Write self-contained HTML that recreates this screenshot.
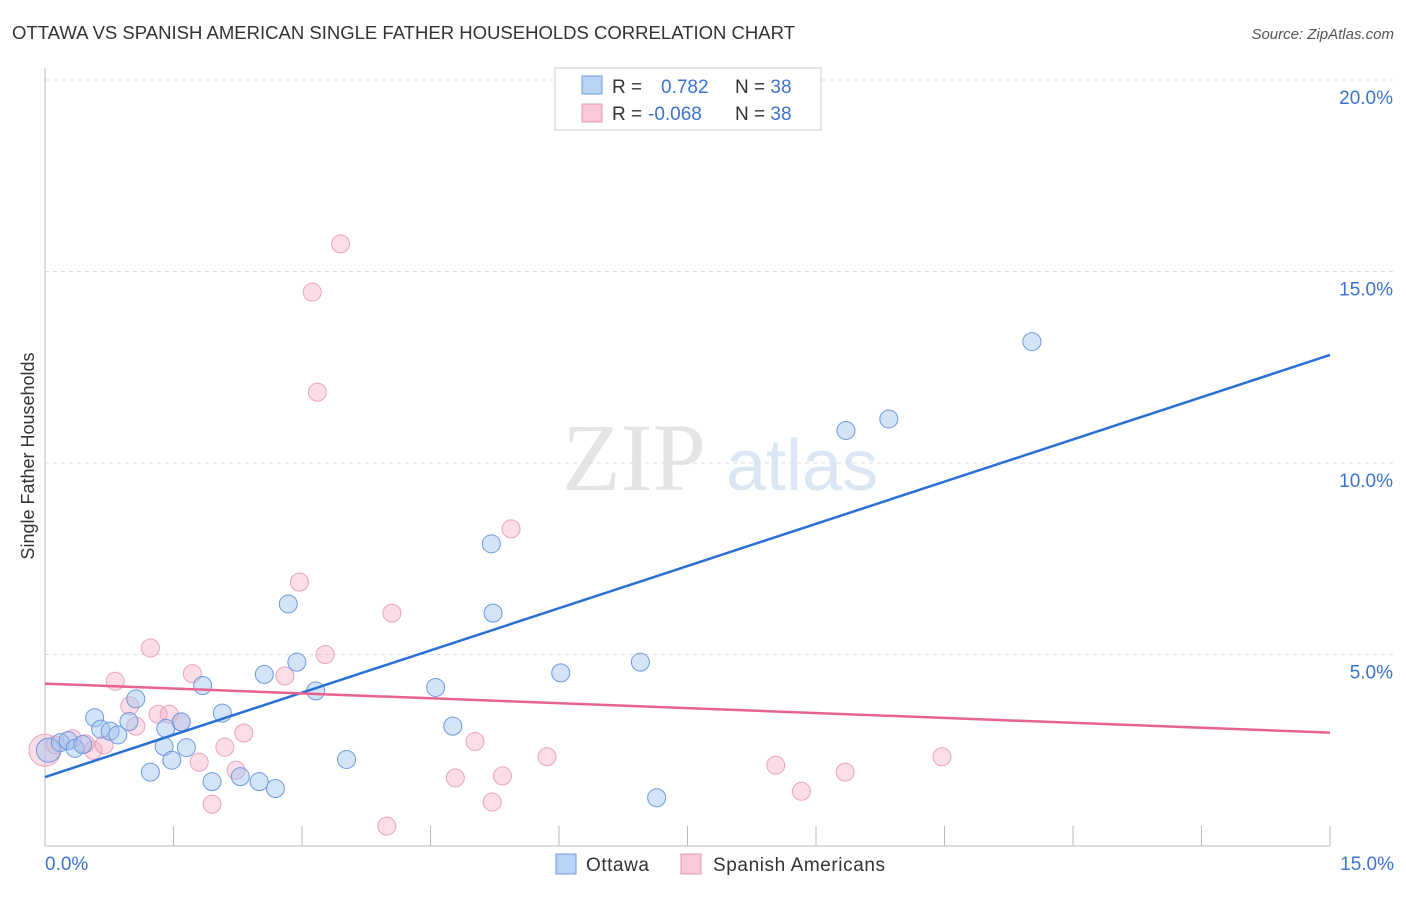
<!DOCTYPE html>
<html><head><meta charset="utf-8"><style>
body{margin:0;background:#fff;font-family:"Liberation Sans",sans-serif}
</style></head><body>
<svg id="c" width="1406" height="892" xmlns="http://www.w3.org/2000/svg" style="font-family:'Liberation Sans',sans-serif">
<text x="12" y="39" font-size="18" fill="#333" textLength="783" lengthAdjust="spacingAndGlyphs">OTTAWA VS SPANISH AMERICAN SINGLE FATHER HOUSEHOLDS CORRELATION CHART</text>
<text x="1394" y="39" font-size="15" fill="#555" font-style="italic" text-anchor="end">Source: ZipAtlas.com</text>
<text x="634" y="490" font-size="96" fill="#e4e4e4" font-family="Liberation Serif,serif" text-anchor="middle">ZIP</text>
<text x="802" y="490" font-size="72" fill="#dbe6f5" text-anchor="middle">atlas</text>
<text transform="translate(34,456) rotate(-90)" font-size="18" fill="#333" text-anchor="middle">Single Father Households</text>
<g id="grid"></g><g id="pts"></g><g id="lines"></g>
<rect x="555" y="68" width="266" height="62" fill="#fff" stroke="#ccc"/>
<rect x="582" y="76" width="20" height="18" fill="#b9d3f5" stroke="#6a9be0"/>
<rect x="582" y="104" width="20" height="18" fill="#f9c9d7" stroke="#e897b0"/>
<text x="612" y="93" font-size="19" fill="#333">R = <tspan fill="#3b73d1" x="661">0.782</tspan><tspan fill="#333" x="735">N = </tspan><tspan fill="#3b73d1">38</tspan></text>
<text x="612" y="120" font-size="19" fill="#333">R = <tspan fill="#3b73d1" x="648">-0.068</tspan><tspan fill="#333" x="735">N = </tspan><tspan fill="#3b73d1">38</tspan></text>
<rect x="556" y="854" width="20" height="20" fill="#b9d3f5" stroke="#6a9be0"/>
<text x="586" y="871" font-size="19" fill="#333" textLength="63">Ottawa</text>
<rect x="681" y="854" width="20" height="20" fill="#f9c9d7" stroke="#e897b0"/>
<text x="713" y="871" font-size="19" fill="#333" textLength="172">Spanish Americans</text>
</svg>
<script>
const ns="http://www.w3.org/2000/svg";
const yTicks=[5,10,15,20];
const xLabels=["0.0%","15.0%"];
const ottX=[0.04,0.18,0.27,0.35,0.44,0.58,0.65,0.76,0.85,0.98,1.06,1.41,1.23,1.39,1.48,1.59,1.65,1.84,1.95,2.07,2.28,2.5,2.56,2.69,2.84,2.94,3.16,3.52,4.56,4.76,5.21,5.23,6.02,6.95,7.14,9.35,9.85,11.52];
const ottY=[2.5,2.7,2.75,2.55,2.65,3.35,3.05,3.0,2.9,3.25,3.84,3.07,1.93,2.6,2.24,3.24,2.57,4.19,1.68,3.47,1.81,1.68,4.48,1.5,6.32,4.8,4.05,2.26,4.14,3.13,7.89,6.08,4.52,4.8,1.26,10.85,11.15,13.17];
const spX=[0.0,0.12,0.32,0.47,0.56,0.69,0.82,0.99,1.06,1.23,1.32,1.45,1.59,1.72,1.8,1.95,2.1,2.23,2.32,2.8,2.97,3.12,3.18,3.27,3.45,3.99,4.05,4.79,5.02,5.22,5.34,5.44,5.86,8.53,8.83,9.34,10.47];
const spY=[2.5,2.64,2.8,2.67,2.5,2.64,4.3,3.66,3.13,5.17,3.44,3.44,3.24,4.5,2.19,1.09,2.58,1.98,2.95,4.44,6.89,14.46,11.85,5.0,15.72,0.52,6.08,1.78,2.73,1.15,1.83,8.28,2.33,2.11,1.43,1.93,2.33];
const ottLine=[[0,1.8],[15,12.82]];
const spLine=[[0,4.24],[15,2.96]];
const X=v=>45+v/15*1285, Y=v=>846-v*38.3;
const g=document.getElementById('grid');
function el(p,t,a){const e=document.createElementNS(ns,t);for(const k in a)e.setAttribute(k,a[k]);p.appendChild(e);return e;}
yTicks.forEach(t=>{
 const l=el(g,'line',{x1:45,x2:1394,y1:Y(t),y2:Y(t),stroke:'#ddd','stroke-dasharray':'4,4'});
 
 
 const tx=el(g,'text',{x:1393,y:Y(t)+24,'font-size':19,fill:'#3b73d1','text-anchor':'end'});tx.textContent=t.toFixed(1)+'%';
 
 
});
const ax=el(g,'line',{x1:45,x2:45,y1:68,y2:846,stroke:'#bbb'});


const bx=el(g,'line',{x1:45,x2:1330,y1:846,y2:846,stroke:'#bbb'});


for(let i=1;i<=10;i++){const tk=el(g,'line',{x1:X(i*1.5),x2:X(i*1.5),y1:826,y2:846,stroke:'#bbb'});
 
 }
const xl0=el(g,'text',{x:45,y:870,'font-size':19,fill:'#3b73d1'});xl0.textContent=xLabels[0];


const xl1=el(g,'text',{x:1394,y:870,'font-size':19,fill:'#3b73d1','text-anchor':'end'});xl1.textContent=xLabels[1];


const p=document.getElementById('pts');
spX.forEach((v,i)=>{const c=el(p,'circle',{cx:X(v),cy:Y(spY[i]),r:i==0?16:9,fill:'rgba(246,170,195,0.4)',stroke:'#eaa3bb','stroke-width':1});
 
 });
ottX.forEach((v,i)=>{const c=el(p,'circle',{cx:X(v),cy:Y(ottY[i]),r:i==0?12:9,fill:'rgba(160,196,240,0.45)',stroke:'#6b9ade','stroke-width':1});
 
 });
const L=document.getElementById('lines');
const l1=el(L,'line',{x1:X(ottLine[0][0]),y1:Y(ottLine[0][1]),x2:X(ottLine[1][0]),y2:Y(ottLine[1][1]),stroke:'#2a6fd6','stroke-width':2.5});


const l2=el(L,'line',{x1:X(spLine[0][0]),y1:Y(spLine[0][1]),x2:X(spLine[1][0]),y2:Y(spLine[1][1]),stroke:'#e8628f','stroke-width':2.5});


</script>
</body></html>
